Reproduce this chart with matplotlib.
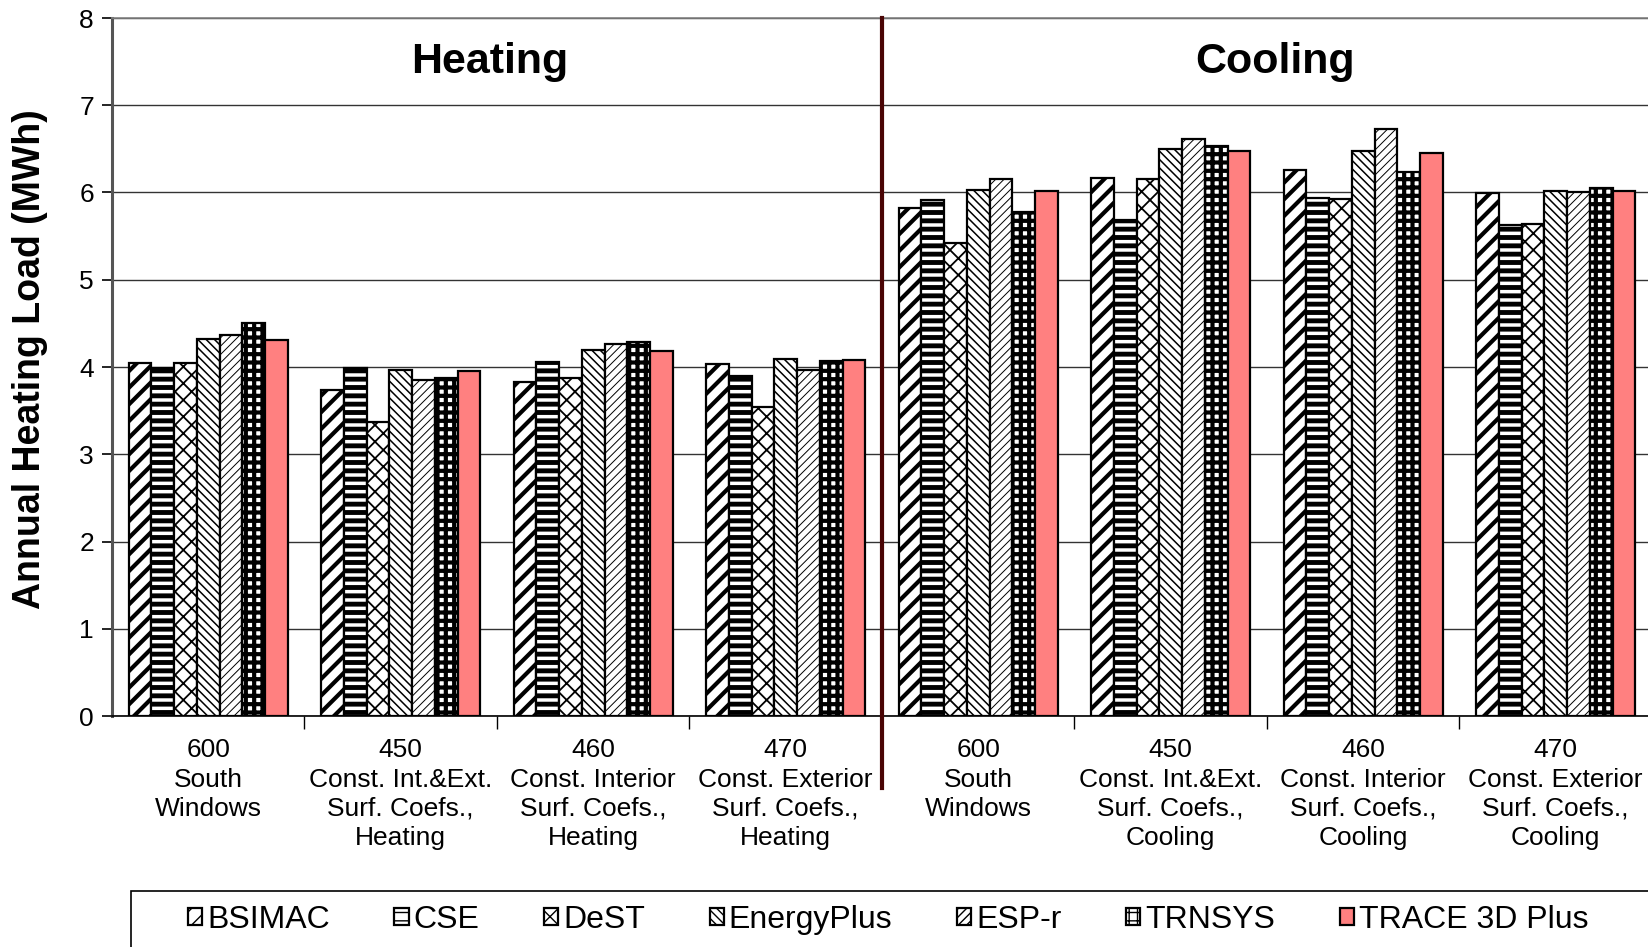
import matplotlib
matplotlib.use("Agg")
import matplotlib.pyplot as plt
import numpy as np
from matplotlib.patches import Rectangle

plt.rcParams['font.family'] = ['Liberation Sans', 'DejaVu Sans']

categories = [
    "600\nSouth\nWindows",
    "450\nConst. Int.&Ext.\nSurf. Coefs.,\nHeating",
    "460\nConst. Interior\nSurf. Coefs.,\nHeating",
    "470\nConst. Exterior\nSurf. Coefs.,\nHeating",
    "600\nSouth\nWindows",
    "450\nConst. Int.&Ext.\nSurf. Coefs.,\nCooling",
    "460\nConst. Interior\nSurf. Coefs.,\nCooling",
    "470\nConst. Exterior\nSurf. Coefs.,\nCooling",
]
series_names = ["BSIMAC", "CSE", "DeST", "EnergyPlus", "ESP-r", "TRNSYS", "TRACE 3D Plus"]
bsimac     = [4.05, 3.74, 3.83, 4.04, 5.82, 6.17, 6.26, 5.99]
cse        = [3.99, 3.99, 4.06, 3.90, 5.91, 5.69, 5.94, 5.63]
dest       = [4.05, 3.37, 3.87, 3.54, 5.42, 6.16, 5.93, 5.64]
energyplus = [4.32, 3.96, 4.19, 4.09, 6.03, 6.50, 6.47, 6.02]
espr       = [4.37, 3.85, 4.26, 3.97, 6.16, 6.61, 6.73, 6.01]
trnsys     = [4.50, 3.87, 4.29, 4.07, 5.78, 6.53, 6.24, 6.05]
trace      = [4.31, 3.95, 4.18, 4.08, 6.02, 6.48, 6.45, 6.02]
values = [bsimac, cse, dest, energyplus, espr, trnsys, trace]
section_titles = ["Heating", "Cooling"]
y_label = "Annual Heating Load (MWh)"

styles = [
    dict(facecolor="white", hatch="//", hlw=3.0),
    dict(facecolor="white", hatch="--", hlw=3.5),
    dict(facecolor="white", hatch="xx", hlw=1.3),
    dict(facecolor="white", hatch="\\\\\\\\", hlw=1.1),
    dict(facecolor="white", hatch="////", hlw=0.7),
    dict(facecolor="white", hatch="++", hlw=3.0),
    dict(facecolor="#FF8080", hatch=None, hlw=1.0),
]

W, H = 1649, 947
fig = plt.figure(figsize=(W / 100, H / 100), dpi=100)
ax = fig.add_axes([112 / W, 1 - 716 / H, 1540 / W, (716 - 18) / H])

n = len(series_names)
bw = 0.118
x = np.arange(len(categories))
handles = []
for i, (name, vals, st) in enumerate(zip(series_names, values, styles)):
    off = (i - (n - 1) / 2) * bw
    bars = ax.bar(x + off, vals, width=bw, facecolor=st["facecolor"], edgecolor="black",
                  linewidth=1.6, hatch=st["hatch"], label=name, zorder=3)
    for b in bars:
        if hasattr(b, "set_hatch_linewidth"):
            b.set_hatch_linewidth(st["hlw"])
    handles.append(bars)

ax.set_xlim(-0.5, len(categories) - 0.5)
ax.set_ylim(0, 8)
ax.set_yticks(range(0, 9))
ax.tick_params(axis='y', labelsize=19, length=7, width=1.2, direction='out', pad=6)
ax.yaxis.grid(True, color="#333333", linewidth=1.0, zorder=0)
ax.set_axisbelow(True)

ax.set_xticks(np.arange(0.5, len(categories) - 0.5, 1.0))
ax.set_xticklabels([])
ax.tick_params(axis='x', which='major', length=9, width=1.0, direction='out')
ax.set_xticks(x, minor=True)
ax.set_xticklabels(categories, minor=True, fontsize=19, linespacing=1.28, va='top')
ax.tick_params(axis='x', which='minor', length=0, pad=16)

for s in ["top", "right"]:
    ax.spines[s].set_color("#808080")
    ax.spines[s].set_linewidth(1.2)
ax.spines["left"].set_color("#555555")
ax.spines["left"].set_linewidth(2.2)
ax.spines["bottom"].set_color("black")
ax.spines["bottom"].set_linewidth(1.2)

ax.set_ylabel(y_label, fontsize=27, fontweight='bold')
ax.yaxis.set_label_coords(-0.0416, 0.511)

# divider
ax.plot([3.5, 3.5], [-0.82, 8], color="#4a0505", linewidth=3.0, clip_on=False, zorder=5)

ax.text(1.46, 7.5, section_titles[0], fontsize=31, fontweight='bold', ha='center', va='center')
ax.text(5.54, 7.5, section_titles[1], fontsize=31, fontweight='bold', ha='center', va='center')

# legend
fig.patches.append(Rectangle((131 / W, -0.05), 1.2, (947 - 891) / H + 0.05, transform=fig.transFigure,
                             facecolor="white", edgecolor="black", linewidth=1.2))
leg = fig.legend(handles=handles, labels=series_names, loc='center left',
                 bbox_to_anchor=(188 / W, 1 - 920 / H), ncol=7, frameon=False,
                 fontsize=23, handlelength=0.45, handleheight=0.45, handletextpad=0.15,
                 columnspacing=2.02, borderpad=0, borderaxespad=0)

fig.savefig("out.png", dpi=100)
